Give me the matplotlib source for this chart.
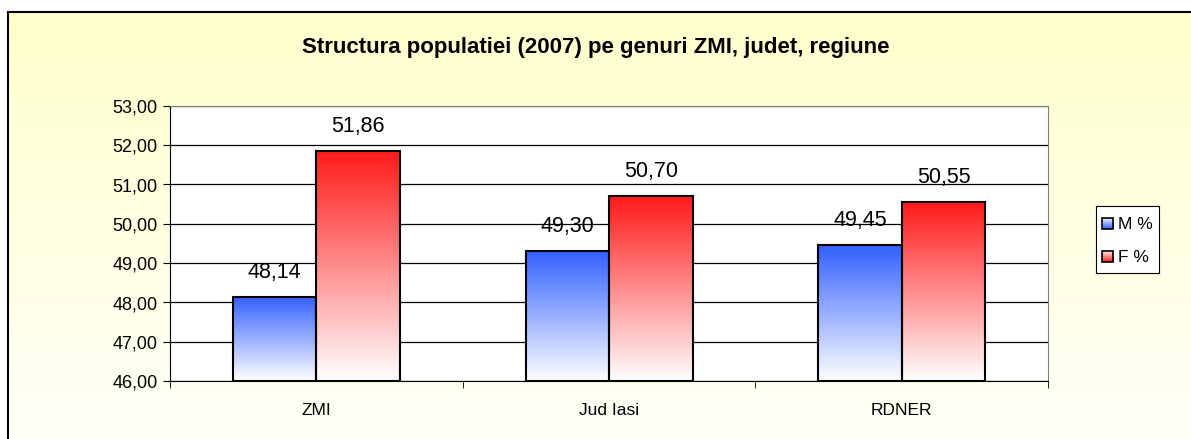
import numpy as np
import matplotlib
matplotlib.use('Agg')
import matplotlib.pyplot as plt
from matplotlib.colors import LinearSegmentedColormap
from matplotlib.patches import Rectangle
from matplotlib.ticker import FuncFormatter

plt.rcParams['font.family'] = ['Liberation Sans', 'DejaVu Sans']

# data
categories = ['ZMI', 'Jud Iasi', 'RDNER']
m_values = [48.14, 49.30, 49.45]
f_values = [51.86, 50.70, 50.55]
series_names = ['M %', 'F %']

W, H = 1191, 439
# small extra so the pixel size does not get truncated to 1190x438
fig = plt.figure(figsize=(11.912, 4.392), dpi=100, facecolor='white')

# chart area background: gradient inside the frame, white outside
fx, fy = 8, 12  # frame left / top in pixels
bg = fig.add_axes([0, 0, 1, 1], zorder=-10)
bg_cmap = LinearSegmentedColormap.from_list('bg', ['#fffffb', '#ffffcc'])
bg.imshow(np.linspace(0, 1, 256).reshape(-1, 1), cmap=bg_cmap, aspect='auto',
          extent=[fx, W + 30, H + 30, fy], origin='lower', interpolation='nearest')
bg.plot([fx, W + 30], [fy, fy], color='black', lw=1.5)
bg.plot([fx, fx], [fy, H + 30], color='black', lw=1.5)
bg.set_xlim(0, W)
bg.set_ylim(H, 0)
bg.axis('off')

fig.text(0.5, 1 - 47 / H, 'Structura populatiei (2007) pe genuri ZMI, judet, regiune',
         ha='center', va='center', fontsize=16, fontweight='bold')

left, right, top, bottom = 170, 1048, 106, 381
ax = fig.add_axes([left / W, 1 - bottom / H, (right - left) / W, (bottom - top) / H])
ax.set_facecolor('white')

x = np.arange(len(categories))
bw = 0.285
ymin, ymax = 46, 53

blue_cmap = LinearSegmentedColormap.from_list('b', ['#ffffff', '#3360ff'])
red_cmap = LinearSegmentedColormap.from_list('r', ['#ffffff', '#ff1a1a'])

grad = np.linspace(0, 1, 256).reshape(-1, 1)
for vals, off, cmap in [(m_values, -bw / 2, blue_cmap), (f_values, bw / 2, red_cmap)]:
    bars = ax.bar(x + off, np.array(vals) - ymin, bw, bottom=ymin, color='none',
                  edgecolor='black', lw=1.5, zorder=3)
    for b, v in zip(bars, vals):
        x0 = b.get_x()
        im = ax.imshow(grad, cmap=cmap, aspect='auto', origin='lower',
                       extent=[x0, x0 + bw, ymin, v], zorder=2)
        im.set_clip_path(b)
        ax.text(x0 + bw / 2, v + 0.63, f'{v:.2f}'.replace('.', ','), ha='center',
                va='center', fontsize=15.5)

ax.set_xlim(-0.5, len(categories) - 0.5)
ax.set_ylim(ymin, ymax)
ax.set_yticks(np.arange(ymin, ymax + 1))
ax.yaxis.set_major_formatter(FuncFormatter(lambda v, p: f'{v:.2f}'.replace('.', ',')))
ax.set_xticks(x)
ax.set_xticklabels(categories, fontsize=12.5)
ax.set_xticks(np.arange(-0.5, len(categories)), minor=True)
ax.tick_params(axis='x', which='major', length=0, pad=16)
ax.tick_params(axis='x', which='minor', length=5, direction='out')
ax.tick_params(axis='y', length=5, labelsize=13, pad=4)
ax.grid(axis='y', color='black', lw=0.9, zorder=1)
ax.set_axisbelow(True)
for s in ['top', 'right']:
    ax.spines[s].set_color('#808080')
for s in ['left', 'bottom']:
    ax.spines[s].set_color('black')

# legend
lax = fig.add_axes([1096 / W, 1 - 273 / H, 63 / W, 67 / H])
lax.set_facecolor('white')
for s in lax.spines.values():
    s.set_color('black')
    s.set_linewidth(0.8)
lax.set_xticks([])
lax.set_yticks([])
for i, (name, cmap) in enumerate(zip(series_names, [blue_cmap, red_cmap])):
    yc = 18 + i * 33
    r = Rectangle((6, yc - 5.5), 11, 11, fill=False, edgecolor='black', lw=1.2, zorder=3)
    lax.add_patch(r)
    lax.imshow(grad, cmap=cmap, aspect='auto', origin='upper',
               extent=[6, 17, yc + 5.5, yc - 5.5], zorder=2)
    lax.text(22, yc, name, va='center', ha='left', fontsize=12.5)
lax.set_xlim(0, 63)
lax.set_ylim(67, 0)

fig.savefig('out.png', dpi=100)
